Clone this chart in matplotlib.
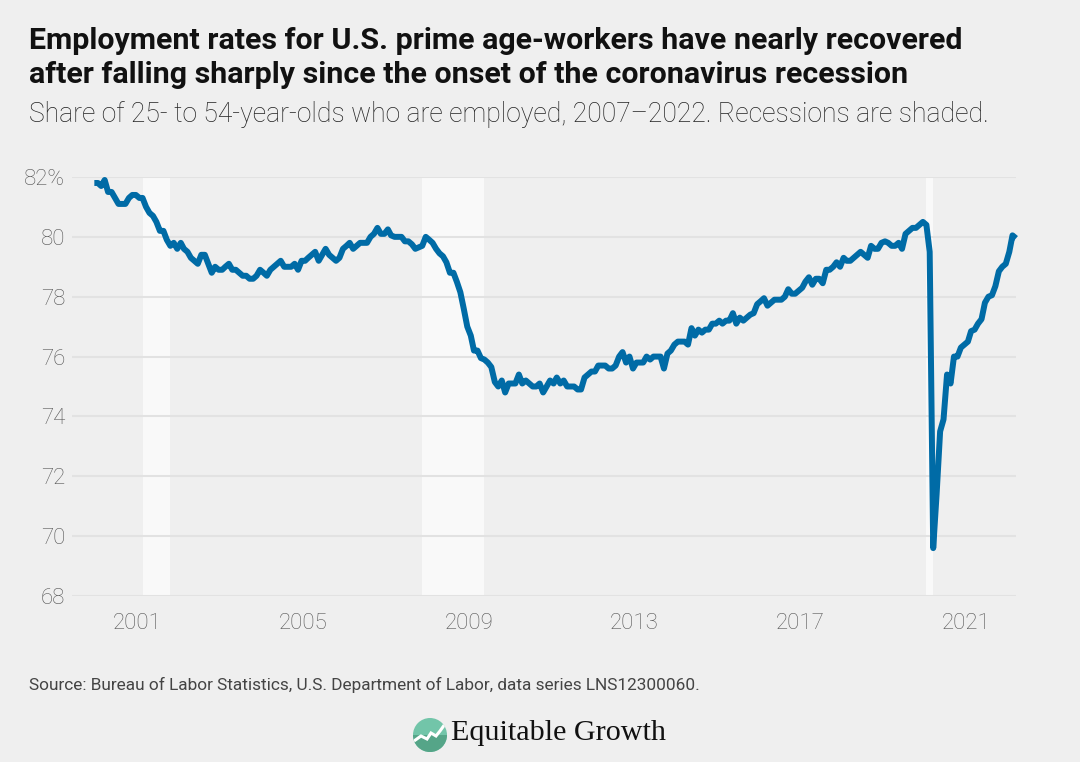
import matplotlib
matplotlib.use("Agg")
import matplotlib.pyplot as plt
import pandas as pd
import numpy as np
from matplotlib.patches import Circle, Rectangle

# monthly employment rate, one list per year
y2000 = [81.8, 81.8, 81.7, 81.9, 81.5, 81.5, 81.3, 81.1, 81.1, 81.1, 81.3, 81.4]
y2001 = [81.4, 81.3, 81.3, 81.0, 80.8, 80.7, 80.5, 80.2, 80.2, 79.9, 79.7, 79.8]
y2002 = [79.6, 79.8, 79.6, 79.5, 79.3, 79.2, 79.1, 79.4, 79.4, 79.1, 78.8, 79.0]
y2003 = [78.9, 78.9, 79.0, 79.1, 78.9, 78.9, 78.8, 78.7, 78.7, 78.6, 78.6, 78.7]
y2004 = [78.9, 78.8, 78.7, 78.9, 79.0, 79.1, 79.2, 79.0, 79.0, 79.0, 79.1, 78.9]
y2005 = [79.2, 79.2, 79.3, 79.4, 79.5, 79.2, 79.4, 79.6, 79.4, 79.3, 79.2, 79.3]
y2006 = [79.6, 79.7, 79.8, 79.6, 79.7, 79.8, 79.8, 79.8, 80.0, 80.1, 80.3, 80.1]
y2007 = [80.1, 80.25, 80.05, 80.0, 80.0, 80.0, 79.85, 79.85, 79.75, 79.6, 79.65, 79.7]
y2008 = [80.0, 79.9, 79.8, 79.6, 79.45, 79.35, 79.15, 78.8, 78.8, 78.5, 78.15, 77.6]
y2009 = [77.0, 76.7, 76.2, 76.2, 75.95, 75.9, 75.8, 75.65, 75.15, 75.0, 75.2, 74.8]
y2010 = [75.1, 75.1, 75.1, 75.4, 75.1, 75.2, 75.1, 75.0, 75.0, 75.1, 74.8, 75.0]
y2011 = [75.2, 75.1, 75.3, 75.1, 75.2, 75.0, 75.0, 75.0, 74.9, 74.9, 75.3, 75.4]
y2012 = [75.5, 75.5, 75.7, 75.7, 75.7, 75.6, 75.6, 75.7, 76.0, 76.15, 75.8, 76.0]
y2013 = [75.6, 75.8, 75.8, 75.8, 76.0, 75.9, 76.0, 76.0, 76.0, 75.6, 76.1, 76.2]
y2014 = [76.4, 76.5, 76.5, 76.5, 76.4, 76.95, 76.7, 76.9, 76.8, 76.9, 76.9, 77.1]
y2015 = [77.1, 77.2, 77.1, 77.2, 77.2, 77.45, 77.1, 77.3, 77.2, 77.3, 77.4, 77.45]
y2016 = [77.75, 77.85, 77.95, 77.7, 77.8, 77.9, 77.9, 77.9, 78.0, 78.25, 78.1, 78.1]
y2017 = [78.2, 78.3, 78.5, 78.65, 78.4, 78.6, 78.6, 78.45, 78.9, 78.9, 79.0, 79.15]
y2018 = [79.0, 79.3, 79.2, 79.2, 79.3, 79.4, 79.5, 79.4, 79.3, 79.7, 79.6, 79.6]
y2019 = [79.8, 79.85, 79.8, 79.7, 79.7, 79.8, 79.6, 80.1, 80.2, 80.3, 80.3, 80.4]
y2020 = [80.5, 80.4, 79.5, 69.6, 71.4, 73.5, 73.9, 75.4, 75.1, 76.0, 76.0, 76.3]
y2021 = [76.4, 76.5, 76.85, 76.9, 77.1, 77.25, 77.8, 78.0, 78.05, 78.35, 78.85, 79.0]
y2022 = [79.1, 79.5, 80.05, 79.95]

rate = (y2000 + y2001 + y2002 + y2003 + y2004 + y2005 + y2006 + y2007 + y2008
        + y2009 + y2010 + y2011 + y2012 + y2013 + y2014 + y2015 + y2016 + y2017
        + y2018 + y2019 + y2020 + y2021 + y2022)
months = pd.date_range("2000-01-01", periods=len(rate), freq="MS")

recessions = [("2001-03-01", "2001-11-01"), ("2007-12-01", "2009-06-01"), ("2020-02-01", "2020-04-01")]
year_ticks = [2001, 2005, 2009, 2013, 2017, 2021]
pct_ticks = [68, 70, 72, 74, 76, 78, 80, 82]

BG = "#efefef"
W, H = 1080, 762

fig = plt.figure(figsize=(W / 100, H / 100), dpi=100, facecolor=BG)
ax = fig.add_axes([72 / W, 1 - 596 / H, (1016 - 72) / W, (596 - 177) / H], facecolor=BG)

for start, end in recessions:
    ax.axvspan(pd.Timestamp(start), pd.Timestamp(end), color="#f9f9f9", lw=0, zorder=1)

ax.plot(months, rate, color="#006ba6", lw=4.3, solid_joinstyle="round", solid_capstyle="butt",
        zorder=3, clip_on=False)

ax.set_ylim(68, 82)
ax.set_xlim(pd.Timestamp("1999-06-18"), months[-1])
ax.set_yticks(pct_ticks)
ax.set_yticklabels([f"{v}%" if v == 82 else str(v) for v in pct_ticks])
ax.set_xticks([pd.Timestamp(f"{y}-01-15") for y in year_ticks])
ax.set_xticklabels([str(y) for y in year_ticks])
ax.grid(axis="y", color="#e2e2e2", lw=1.5, zorder=2)
ax.set_axisbelow(False)
for line in ax.get_ygridlines():
    line.set_zorder(2)
for s in ax.spines.values():
    s.set_visible(False)
ax.tick_params(length=0, labelsize=16, labelcolor="#555555")
ax.tick_params(axis="y", pad=5)
ax.tick_params(axis="x", pad=12)
for lab in ax.get_xticklabels() + ax.get_yticklabels():
    lab.set_family("Roboto")
    lab.set_fontweight("light")

# header and footer, placed in pixels from the top left
def put(x, y, s, **kw):
    fig.text(x / W, 1 - y / H, s, va="center", **kw)

put(29, 41, "Employment rates for U.S. prime age-workers have nearly recovered",
    family="Roboto", weight="bold", size=21.9, color="#111111")
put(29, 75, "after falling sharply since the onset of the coronavirus recession",
    family="Roboto", weight="bold", size=21.9, color="#111111")
put(29, 114, "Share of 25- to 54-year-olds who are employed, 2007–2022. Recessions are shaded.",
    family="Roboto", weight="light", size=19.1, color="#222222")
put(29, 685, "Source: Bureau of Labor Statistics, U.S. Department of Labor, data series LNS12300060.",
    family="Roboto", size=12.4, color="#444444")

# logo
logo = fig.add_axes([0, 0, 1, 1], facecolor="none")
logo.set_xlim(0, W)
logo.set_ylim(H, 0)
logo.axis("off")
disc = Circle((430, 735), 17, color="#72c5a9", lw=0)
logo.add_patch(disc)
low = Rectangle((412, 735), 36, 18, color="#55a588", lw=0)
logo.add_patch(low)
low.set_clip_path(disc)
mark_x = [414, 421, 427, 431, 436, 440, 445]
mark_y = [741, 736, 739, 733, 736, 731, 724]
mark = logo.plot(mark_x, mark_y, color="white", lw=2.2, solid_joinstyle="miter")[0]
mark.set_clip_path(disc)
logo.text(451, 733, "Equitable Growth", family="Liberation Serif", size=21.7, color="#111111",
          va="center", ha="left")

fig.savefig("out.png", dpi=100, facecolor=BG)
